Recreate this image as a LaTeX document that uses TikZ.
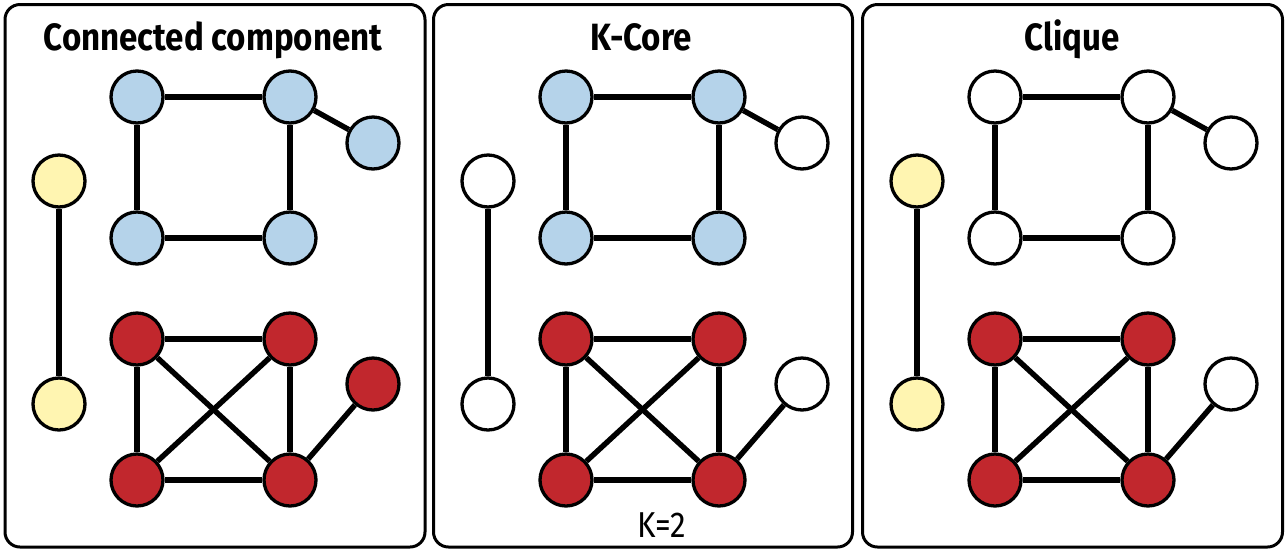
\documentclass[tikz,border=0pt]{standalone}
\usepackage{fontspec}
\setmainfont{Fira Sans}[FakeStretch=0.87]
\usepackage{tikz}
\usetikzlibrary{positioning}
\definecolor{compblue}{HTML}{B5D3EA}
\definecolor{compred}{HTML}{C1272D}
\definecolor{compyellow}{HTML}{FFF5B1}

\begin{document}
\begin{tikzpicture}[
x=0.5pt, y=-0.5pt, on grid,
panelbox/.style={draw=black, line width=1.5pt, rounded corners=7.5pt},
plainnode/.style={circle, draw=black, fill=white, line width=1.65pt, minimum size=26pt, inner sep=0pt},
bluenode/.style={plainnode, fill=compblue},
rednode/.style={plainnode, fill=compred},
yellownode/.style={plainnode, fill=compyellow},
edge/.style={draw=black, line width=2.7pt},
titletext/.style={font=\bfseries\fontsize{19}{22}\selectfont, inner sep=0pt},
labeltext/.style={font=\fontsize{18}{21}\selectfont, inner sep=0pt},
]
\useasboundingbox (0,0) rectangle (1286,553);

%Boxes
\draw[panelbox] (5,4.5) rectangle (425,547);
\draw[panelbox] (433.5,4.5) rectangle (852.5,547);
\draw[panelbox] (862.5,4.5) rectangle (1282.5,547);

%Titles
\node[titletext, anchor=base] (ctitle) at (213,50) {Connected component};
\node[titletext, anchor=base] (ktitle) at (641,50) {K-Core};
\node[titletext, anchor=base] (qtitle) at (1072,50) {Clique};
\node[labeltext, anchor=base] (klabel) at (662,537) {K=2};

%Nodes: connected component
\node[bluenode]   (ca) at (137,97) {};
\node[bluenode]   (cb) [right=76.5pt of ca] {};
\node[bluenode]   (cc) [below=70.5pt of ca] {};
\node[bluenode]   (cd) [right=76.5pt of cc] {};
\node[bluenode]   (ce) [below right=23pt and 41.5pt of cb] {};
\node[yellownode] (cy) [below left=42pt and 39pt of ca] {};
\node[yellownode] (cz) [below=111.5pt of cy] {};
\node[rednode]    (cr) [below=50.5pt of cc] {};
\node[rednode]    (cs) [right=76.5pt of cr] {};
\node[rednode]    (ct) [below=70.5pt of cr] {};
\node[rednode]    (cu) [right=76.5pt of ct] {};
\node[rednode]    (cv) [below right=22.5pt and 41.5pt of cs] {};

%Nodes: k-core
\node[bluenode]   (ka) at (566,97) {};
\node[bluenode]   (kb) [right=76.5pt of ka] {};
\node[bluenode]   (kc) [below=70.5pt of ka] {};
\node[bluenode]   (kd) [right=76.5pt of kc] {};
\node[plainnode]  (ke) [below right=23pt and 41.5pt of kb] {};
\node[plainnode]  (ky) [below left=42pt and 39pt of ka] {};
\node[plainnode]  (kz) [below=111.5pt of ky] {};
\node[rednode]    (kr) [below=50.5pt of kc] {};
\node[rednode]    (ks) [right=76.5pt of kr] {};
\node[rednode]    (kt) [below=70.5pt of kr] {};
\node[rednode]    (ku) [right=76.5pt of kt] {};
\node[plainnode]  (kv) [below right=22.5pt and 41.5pt of ks] {};

%Nodes: clique
\node[plainnode]  (qa) at (995,97) {};
\node[plainnode]  (qb) [right=76.5pt of qa] {};
\node[plainnode]  (qc) [below=70.5pt of qa] {};
\node[plainnode]  (qd) [right=76.5pt of qc] {};
\node[plainnode]  (qe) [below right=23pt and 41.5pt of qb] {};
\node[yellownode] (qy) [below left=42pt and 39pt of qa] {};
\node[yellownode] (qz) [below=111.5pt of qy] {};
\node[rednode]    (qr) [below=50.5pt of qc] {};
\node[rednode]    (qs) [right=76.5pt of qr] {};
\node[rednode]    (qt) [below=70.5pt of qr] {};
\node[rednode]    (qu) [right=76.5pt of qt] {};
\node[plainnode]  (qv) [below right=22.5pt and 41.5pt of qs] {};

%Lines
\draw[edge] (ca) -- (cb);
\draw[edge] (ca) -- (cc);
\draw[edge] (cb) -- (cd);
\draw[edge] (cc) -- (cd);
\draw[edge] (cb) -- (ce);
\draw[edge] (cy) -- (cz);
\draw[edge] (cr) -- (cs);
\draw[edge] (cr) -- (ct);
\draw[edge] (cs) -- (cu);
\draw[edge] (ct) -- (cu);
\draw[edge] (cr) -- (cu);
\draw[edge] (cs) -- (ct);
\draw[edge] (cu) -- (cv);

\draw[edge] (ka) -- (kb);
\draw[edge] (ka) -- (kc);
\draw[edge] (kb) -- (kd);
\draw[edge] (kc) -- (kd);
\draw[edge] (kb) -- (ke);
\draw[edge] (ky) -- (kz);
\draw[edge] (kr) -- (ks);
\draw[edge] (kr) -- (kt);
\draw[edge] (ks) -- (ku);
\draw[edge] (kt) -- (ku);
\draw[edge] (kr) -- (ku);
\draw[edge] (ks) -- (kt);
\draw[edge] (ku) -- (kv);

\draw[edge] (qa) -- (qb);
\draw[edge] (qa) -- (qc);
\draw[edge] (qb) -- (qd);
\draw[edge] (qc) -- (qd);
\draw[edge] (qb) -- (qe);
\draw[edge] (qy) -- (qz);
\draw[edge] (qr) -- (qs);
\draw[edge] (qr) -- (qt);
\draw[edge] (qs) -- (qu);
\draw[edge] (qt) -- (qu);
\draw[edge] (qr) -- (qu);
\draw[edge] (qs) -- (qt);
\draw[edge] (qu) -- (qv);
\end{tikzpicture}
\end{document}
